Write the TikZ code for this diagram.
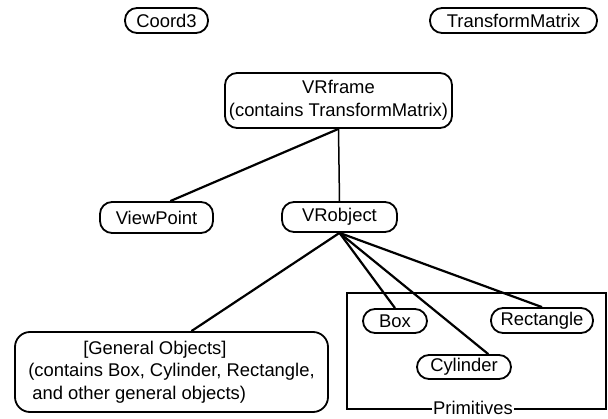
\documentclass[tikz,border=0pt]{standalone}
\usepackage{fontspec}
\setmainfont{Liberation Sans}
\usetikzlibrary{positioning}

\begin{document}
\begin{tikzpicture}[x=1pt,y=-1pt,
	cls/.style={draw, line width=1.8pt, rounded corners=12pt, inner sep=0pt,
		font=\fontsize{18.4}{22.5}\selectfont, align=center},
	link/.style={line width=2.2pt},
	]
\useasboundingbox (0,0) rectangle (608,419);
	% classes
\path
	(166.5,20.5) node[cls, minimum width=83, minimum height=25] (coord) {Coord3}
	(513.5,20.5) node[cls, minimum width=167, minimum height=25] (tmatrix) {TransformMatrix}
	(338.5,100.5) node[cls, minimum width=227, minimum height=55] (frame) {VRframe\\(contains TransformMatrix)}
	(156.5,217.5) node[cls, minimum width=113, minimum height=31] (viewpt) {ViewPoint}
	(339.5,217) node[cls, minimum width=115, minimum height=30] (vrobj) {VRobject}
	(171.5,372) node[cls, rounded corners=15pt, align=left, minimum width=313, minimum height=80] (general)
		{\hspace*{55pt}[General Objects]\\(contains Box, Cylinder, Rectangle,\\\hspace*{4pt}and other general objects)}
	;

	% primitives
\draw [line width=1.5pt] (347,293) rectangle (606,409);
\path
	(395,321) node[cls, minimum width=64, minimum height=24] (box) {Box}
	(542,320.5) node[cls, minimum width=102, minimum height=25] (rect) {Rectangle}
	(464,367) node[cls, minimum width=94, minimum height=24] (cyl) {Cylinder}
	(473,408) node[fill=white, inner sep=1pt, font=\fontsize{18.4}{22.5}\selectfont] (prim) {Primitives}
	;

	% links
\draw [link] (frame.south) -- (viewpt.50);
\draw [line width=1.5pt] (frame.south) -- (vrobj.north);
\draw [link] (vrobj.south) -- (general.64);
\draw [link] (vrobj.south) -- (box.north);
\draw [link] (vrobj.south) -- (cyl.28);
\draw [link] (vrobj.south) -- (rect.north);
\end{tikzpicture}
\end{document}
